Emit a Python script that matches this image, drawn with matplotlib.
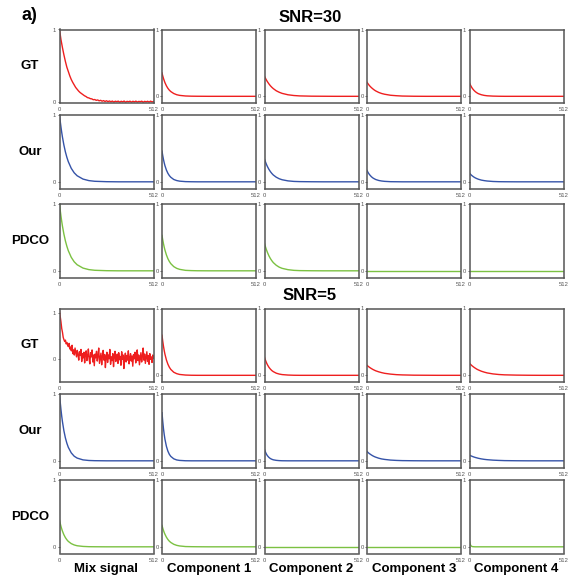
import numpy as np
import matplotlib
matplotlib.use("Agg")
import matplotlib.pyplot as plt

plt.rcParams['font.family'] = ['Liberation Sans', 'DejaVu Sans']

# ---------------- data ----------------
columns = ["Mix signal", "Component 1", "Component 2", "Component 3", "Component 4"]
methods = ["GT", "Our", "PDCO"]
snr_titles = ["SNR=30", "SNR=5"]

# common sample positions for smooth curves
t_smooth = [0, 4, 8, 12, 16, 24, 32, 40, 48, 64, 80, 96, 128, 160, 192, 256, 320, 384, 512]
zero = [0.0] * len(t_smooth)

# SNR=30, GT
gt30_mix = [1.00, 0.86, 0.75, 0.65, 0.56, 0.48, 0.42, 0.36, 0.31, 0.27, 0.235, 0.20, 0.175, 0.15, 0.13,
            0.115, 0.10, 0.085, 0.075, 0.06, 0.055, 0.045, 0.042, 0.03, 0.033, 0.022, 0.027, 0.015, 0.022,
            0.01, 0.018, 0.006, 0.016, 0.004, 0.013, 0.002, 0.012, -0.002, 0.01, 0.003, 0.011, -0.003,
            0.009, 0.001, 0.012, -0.004, 0.008, 0.002, 0.010, -0.003, 0.009, 0.0, 0.011, -0.002, 0.007,
            0.003, 0.010, -0.004, 0.008, 0.001, 0.009, -0.002, 0.011, 0.0, 0.006]
gt30_c1 = [0.35, 0.306, 0.268, 0.235, 0.205, 0.157, 0.120, 0.092, 0.071, 0.042, 0.024, 0.014, 0.005, 0.002, 0.001, 0, 0, 0, 0]
gt30_c2 = [0.30, 0.277, 0.256, 0.236, 0.218, 0.186, 0.158, 0.135, 0.115, 0.083, 0.061, 0.044, 0.023, 0.012, 0.006, 0.002, 0.001, 0, 0]
gt30_c3 = [0.21, 0.194, 0.179, 0.165, 0.152, 0.130, 0.111, 0.094, 0.080, 0.058, 0.042, 0.031, 0.016, 0.009, 0.004, 0.001, 0, 0, 0]
gt30_c4 = [0.20, 0.175, 0.153, 0.134, 0.117, 0.090, 0.069, 0.053, 0.040, 0.024, 0.014, 0.008, 0.003, 0.001, 0, 0, 0, 0, 0]

# SNR=30, Our
our30_mix = [1.0, 0.905, 0.819, 0.741, 0.670, 0.549, 0.449, 0.368, 0.301, 0.202, 0.135, 0.091, 0.041, 0.018, 0.008, 0.002, 0, 0, 0]
our30_c1 = [0.46, 0.392, 0.334, 0.285, 0.242, 0.176, 0.128, 0.093, 0.068, 0.035, 0.019, 0.010, 0.003, 0.001, 0, 0, 0, 0, 0]
our30_c2 = [0.34, 0.308, 0.278, 0.252, 0.228, 0.187, 0.153, 0.125, 0.102, 0.069, 0.046, 0.031, 0.014, 0.006, 0.003, 0.001, 0, 0, 0]
our30_c3 = [0.17, 0.149, 0.130, 0.114, 0.100, 0.076, 0.058, 0.045, 0.034, 0.020, 0.012, 0.007, 0.002, 0.001, 0, 0, 0, 0, 0]
our30_c4 = [0.13, 0.118, 0.106, 0.096, 0.087, 0.071, 0.058, 0.048, 0.039, 0.026, 0.018, 0.012, 0.005, 0.002, 0.001, 0, 0, 0, 0]

# SNR=30, PDCO
pdco30_mix = [1.0, 0.905, 0.819, 0.741, 0.670, 0.549, 0.449, 0.368, 0.301, 0.202, 0.135, 0.091, 0.041, 0.018, 0.008, 0.002, 0, 0, 0]
pdco30_c1 = [0.53, 0.464, 0.406, 0.355, 0.311, 0.238, 0.182, 0.140, 0.107, 0.063, 0.037, 0.022, 0.007, 0.003, 0.001, 0, 0, 0, 0]
pdco30_c2 = [0.41, 0.371, 0.336, 0.304, 0.275, 0.225, 0.184, 0.151, 0.123, 0.083, 0.055, 0.037, 0.017, 0.007, 0.003, 0.001, 0, 0, 0]
pdco30_c3 = zero
pdco30_c4 = zero

# SNR=5, GT
gt5_mix = [1.03, 0.92, 0.80, 0.66, 0.58, 0.47, 0.42, 0.38, 0.41, 0.33, 0.36, 0.30, 0.27, 0.34, 0.22, 0.26,
           0.18, 0.30, 0.12, 0.20, 0.09, 0.24, 0.14, 0.05, 0.19, 0.10, -0.02, 0.16, 0.08, 0.21, -0.05, 0.12,
           0.03, 0.15, -0.08, 0.10, 0.18, -0.03, 0.07, 0.22, 0.01, -0.10, 0.14, 0.05, 0.20, -0.06, 0.09,
           -0.14, 0.11, 0.03, 0.17, -0.04, 0.08, 0.24, -0.09, 0.02, 0.13, -0.12, 0.06, 0.19, -0.02, 0.10,
           -0.18, 0.04, 0.15, -0.07, 0.09, 0.01, 0.21, -0.11, 0.05, -0.03, 0.12, -0.16, 0.07, 0.17, -0.05,
           0.02, 0.11, -0.09, 0.14, -0.01, 0.06, -0.13, 0.16, 0.00, 0.09, -0.20, 0.04, 0.13, -0.06, 0.08,
           -0.02, 0.18, -0.10, 0.03, 0.12, -0.04, 0.07, -0.15, 0.10, 0.01, 0.15, -0.08, 0.05, 0.20, -0.03,
           0.09, -0.12, 0.02, 0.14, -0.06, 0.06, 0.24, -0.02, 0.11, -0.09, 0.04, 0.16, -0.05, 0.08, -0.11,
           0.12, 0.00, 0.05, -0.07, 0.09, 0.02]
gt5_c1 = [0.60, 0.511, 0.436, 0.371, 0.316, 0.230, 0.167, 0.121, 0.088, 0.046, 0.025, 0.013, 0.004, 0.001, 0, 0, 0, 0, 0]
gt5_c2 = [0.27, 0.236, 0.207, 0.181, 0.158, 0.121, 0.093, 0.071, 0.055, 0.032, 0.019, 0.011, 0.004, 0.001, 0, 0, 0, 0, 0]
gt5_c3 = [0.15, 0.140, 0.131, 0.123, 0.115, 0.101, 0.088, 0.077, 0.067, 0.052, 0.040, 0.030, 0.018, 0.010, 0.006, 0.002, 0.001, 0, 0]
gt5_c4 = [0.18, 0.168, 0.158, 0.147, 0.138, 0.121, 0.106, 0.092, 0.081, 0.062, 0.048, 0.036, 0.021, 0.012, 0.007, 0.003, 0.001, 0, 0]

# SNR=5, Our
our5_mix = [1.0, 0.875, 0.766, 0.670, 0.587, 0.449, 0.344, 0.264, 0.202, 0.119, 0.069, 0.041, 0.014, 0.005, 0.002, 0, 0, 0, 0]
our5_c1 = [0.72, 0.590, 0.482, 0.395, 0.323, 0.217, 0.145, 0.097, 0.066, 0.030, 0.013, 0.006, 0.001, 0, 0, 0, 0, 0, 0]
our5_c2 = [0.17, 0.139, 0.114, 0.093, 0.076, 0.051, 0.034, 0.023, 0.015, 0.007, 0.003, 0.001, 0, 0, 0, 0, 0, 0, 0]
our5_c3 = [0.14, 0.129, 0.119, 0.110, 0.102, 0.087, 0.074, 0.063, 0.054, 0.039, 0.028, 0.021, 0.011, 0.006, 0.003, 0.001, 0, 0, 0]
our5_c4 = [0.085, 0.080, 0.074, 0.070, 0.065, 0.057, 0.050, 0.044, 0.038, 0.029, 0.022, 0.017, 0.010, 0.006, 0.003, 0.001, 0, 0, 0]

# SNR=5, PDCO
pdco5_mix = [0.40, 0.350, 0.306, 0.268, 0.235, 0.180, 0.138, 0.106, 0.081, 0.048, 0.028, 0.016, 0.006, 0.002, 0.001, 0, 0, 0, 0]
pdco5_c1 = [0.32, 0.280, 0.245, 0.214, 0.188, 0.144, 0.110, 0.084, 0.065, 0.038, 0.022, 0.013, 0.004, 0.002, 0.001, 0, 0, 0, 0]
pdco5_c2 = zero
pdco5_c3 = zero
pdco5_c4 = [0.08, 0.036, 0.016, 0.007, 0.003, 0.001, 0, 0, 0, 0, 0, 0, 0, 0, 0, 0, 0, 0, 0]

rows = [
    [gt30_mix, gt30_c1, gt30_c2, gt30_c3, gt30_c4],
    [our30_mix, our30_c1, our30_c2, our30_c3, our30_c4],
    [pdco30_mix, pdco30_c1, pdco30_c2, pdco30_c3, pdco30_c4],
    [gt5_mix, gt5_c1, gt5_c2, gt5_c3, gt5_c4],
    [our5_mix, our5_c1, our5_c2, our5_c3, our5_c4],
    [pdco5_mix, pdco5_c1, pdco5_c2, pdco5_c3, pdco5_c4],
]
row_colors = ["#ee1f1f", "#3553a8", "#7bc142"] * 2
row_labels = methods * 2

# ---------------- layout ----------------
W, H = 570, 578
fig = plt.figure(figsize=(W / 100, H / 100), dpi=100)

col_left = [59.5, 162, 264.5, 367, 469.5]
row_top = [29.5, 115, 204, 308.5, 394, 480]
aw, ah = 94, 73.5

for r, row in enumerate(rows):
    for c, y in enumerate(row):
        ax = fig.add_axes([col_left[c] / W, 1 - (row_top[r] + ah) / H, aw / W, ah / H])
        t = np.linspace(0, 512, len(y)) if len(y) != len(t_smooth) else t_smooth
        ax.plot(t, y, color=row_colors[r], lw=1.0)
        ax.set_xlim(0, 512)
        if r == 0 and c == 0:
            ax.set_ylim(-0.015, 1.0)
        elif r == 3 and c == 0:
            ax.set_ylim(-0.49, 1.09)
        else:
            ax.set_ylim(-0.1, 1.0)
        ax.set_xticks([0, 512])
        ax.set_xticklabels(["0", "512"])
        ax.set_yticks([0, 1])
        ax.set_yticklabels(["0", "1"])
        ax.tick_params(axis='x', length=0, labelsize=4.2, pad=3, colors="#555555")
        ax.tick_params(axis='y', length=1.5, width=0.6, labelsize=4.2, pad=1, colors="#555555")
        for s in ax.spines.values():
            s.set_color("#555555")
            s.set_linewidth(1.1)

# row labels
for r, lab in enumerate(row_labels):
    yc = row_top[r] + ah / 2
    fig.text(30 / W, 1 - yc / H, lab, ha="center", va="center", fontsize=9.5, fontweight="bold")

# column labels
for c, lab in enumerate(columns):
    fig.text((col_left[c] + aw / 2) / W, 1 - 569 / H, lab, ha="center", va="center",
             fontsize=9.5, fontweight="bold")

fig.text(310 / W, 1 - 18 / H, snr_titles[0], ha="center", va="center", fontsize=12, fontweight="bold")
fig.text(310 / W, 1 - 295 / H, snr_titles[1], ha="center", va="center", fontsize=12, fontweight="bold")
fig.text(22 / W, 1 - 15 / H, "a)", ha="left", va="center", fontsize=13, fontweight="bold")

fig.savefig("out.png", dpi=100)
